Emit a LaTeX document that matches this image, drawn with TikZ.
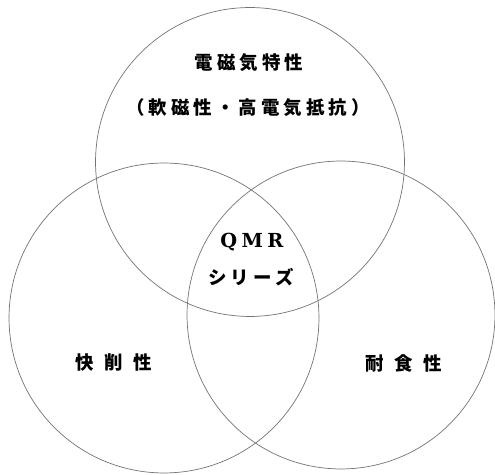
\documentclass[tikz,border=0pt]{standalone}
\usepackage{fontspec}
\newfontfamily\jp[LetterSpace=22]{Noto Sans CJK JP}
\newfontfamily\jpwide[LetterSpace=58]{Noto Sans CJK JP}
\newfontfamily\qmrfont{DejaVu Serif}
\tikzset{
  ring/.style={draw=black!55, line width=0.4pt},
  lbl/.style={font=\fontsize{10.5}{12}\jp\bfseries, inner sep=0pt},
  lblwide/.style={font=\fontsize{10.5}{12}\jpwide\bfseries, inner sep=0pt}
}
\begin{document}
\begin{tikzpicture}[x=0.02cm, y=-0.02cm]
  \useasboundingbox (0, 0) rectangle (495, 475);
  % the three properties
  \draw[ring] (250, 162) circle (3.09cm);
  \draw[ring] (164, 318) circle (3.10cm);
  \draw[ring] (341, 315) circle (3.08cm);

  \node[lbl] (mag) at (249, 63) {電磁気特性};
  \node[lbl] (magsub) at (248, 108) {（軟磁性・高電気抵抗）};
  \node[inner sep=0pt, font=\fontsize{11}{13}\qmrfont\bfseries] (qmr) at (252, 242) {Q\hspace{2.5pt}M\hspace{2.5pt}R};
  \node[lbl] (series) at (251, 277) {シリーズ};
  \node[lblwide] (cut) at (114, 363) {快削性};
  \node[lblwide] (corr) at (404, 363) {耐食性};
\end{tikzpicture}
\end{document}
